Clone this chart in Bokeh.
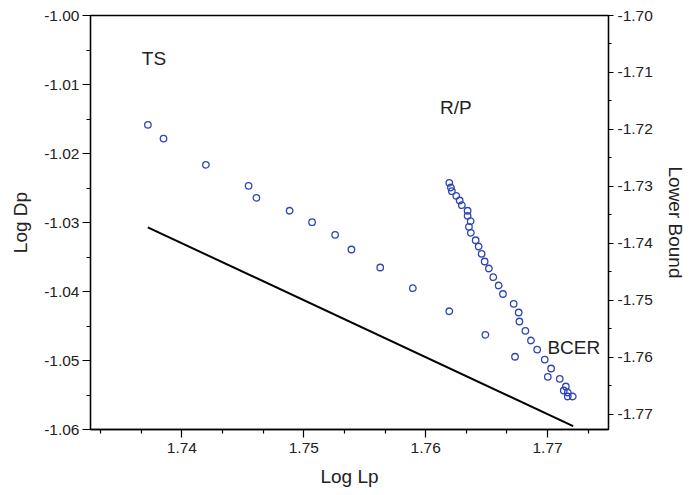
from bokeh.plotting import figure
from bokeh.models import (Range1d, LinearAxis, FixedTicker, PrintfTickFormatter,
                          ColumnDataSource)
from bokeh.core.properties import value
from bokeh.embed import file_html
from bokeh.resources import INLINE

# ---- data ----
ts_x = [1.73721, 1.73849, 1.74197, 1.74547, 1.74611, 1.74884, 1.75068, 1.75257,
        1.75391, 1.75627, 1.75895, 1.76194, 1.76490, 1.76733]
ts_y = [-1.01584, -1.01783, -1.02164, -1.02468, -1.02642, -1.02830, -1.02996, -1.03178,
        -1.03391, -1.03652, -1.03952, -1.04286, -1.04628, -1.04946]

rp_x = [1.76194, 1.76207, 1.76215, 1.76251, 1.76279, 1.76297, 1.76344, 1.76344,
        1.76369, 1.76355, 1.76371, 1.76410, 1.76435, 1.76459, 1.76484, 1.76519,
        1.76555, 1.76599, 1.76634, 1.76722, 1.76763, 1.76769, 1.76818, 1.76864,
        1.76915, 1.76977, 1.77029, 1.77002, 1.77100, 1.77150, 1.77133, 1.77166,
        1.77166, 1.77207]
rp_y = [-1.02425, -1.02493, -1.02546, -1.02613, -1.02681, -1.02749, -1.02830, -1.02903,
        -1.02981, -1.03062, -1.03149, -1.03257, -1.03348, -1.03454, -1.03565, -1.03667,
        -1.03793, -1.03913, -1.04036, -1.04178, -1.04304, -1.04435, -1.04570, -1.04710,
        -1.04841, -1.04986, -1.05116, -1.05236, -1.05265, -1.05377, -1.05435, -1.05464,
        -1.05522, -1.05522]

lb_x = [1.7372, 1.7721]
lb_y = [-1.7372, -1.7721]

label_text = ["TS", "R/P", "BCER"]
label_x = [1.73671, 1.76117, 1.76999]
label_y = [-1.00623, -1.01329, -1.04807]

x_ticks = [1.74, 1.75, 1.76, 1.77]
x_minor = [1.73333, 1.73667, 1.74333, 1.74667, 1.75333, 1.75667, 1.76333, 1.76667,
           1.77333, 1.77667]
yl_ticks = [-1.00, -1.01, -1.02, -1.03, -1.04, -1.05, -1.06]
yl_minor = [-1.005, -1.015, -1.025, -1.035, -1.045, -1.055]
yr_ticks = [-1.70, -1.71, -1.72, -1.73, -1.74, -1.75, -1.76, -1.77]
yr_minor = [-1.705, -1.715, -1.725, -1.735, -1.745, -1.755, -1.765]

FONT = "Liberation Sans"
TICK_FS = "15.5px"
TITLE_FS = "19px"

p = figure(width=689, height=495, output_backend="svg", toolbar_location=None,
           x_range=Range1d(1.7325, 1.775), y_range=Range1d(-1.06, -1.00),
           min_border_left=90, min_border_right=81, min_border_top=15,
           min_border_bottom=66)
p.extra_y_ranges = {"right": Range1d(-1.7727, -1.70)}

p.grid.visible = False
p.outline_line_color = "black"
p.outline_line_width = 1.3
p.background_fill_color = "white"
p.border_fill_color = "white"

def style_axis(ax, tick_out=8):
    ax.axis_line_color = "black"
    ax.axis_line_width = 1.3
    ax.major_tick_line_color = "black"
    ax.minor_tick_line_color = "black"
    ax.major_tick_line_width = 1.2
    ax.minor_tick_line_width = 1.2
    ax.major_tick_out = tick_out
    ax.major_tick_in = 0
    ax.minor_tick_out = 4
    ax.minor_tick_in = 0
    ax.major_label_text_font = FONT
    ax.major_label_text_font_size = TICK_FS
    ax.major_label_text_color = "#222222"
    ax.axis_label_text_font = FONT
    ax.axis_label_text_font_size = TITLE_FS
    ax.axis_label_text_font_style = "normal"
    ax.axis_label_text_color = "#222222"

xa = p.xaxis[0]
xa.ticker = FixedTicker(ticks=x_ticks, minor_ticks=x_minor)
xa.formatter = PrintfTickFormatter(format="%.2f")
xa.axis_label = "Log Lp"
style_axis(xa)
xa.major_label_standoff = 5
xa.axis_label_standoff = 10

ya = p.yaxis[0]
ya.ticker = FixedTicker(ticks=yl_ticks, minor_ticks=yl_minor)
ya.formatter = PrintfTickFormatter(format="%.2f")
ya.axis_label = "Log Dp"
style_axis(ya)
ya.major_label_standoff = 3
ya.axis_label_standoff = 10

ra = LinearAxis(y_range_name="right", axis_label="Lower Bound")
ra.ticker = FixedTicker(ticks=yr_ticks, minor_ticks=yr_minor)
ra.formatter = PrintfTickFormatter(format="%.2f")
style_axis(ra, tick_out=5)
ra.minor_tick_out = 3
ra.major_label_standoff = 4
ra.axis_label_standoff = 9
p.add_layout(ra, "right")

p.line(lb_x, lb_y, y_range_name="right", line_color="black", line_width=2)

p.scatter(ts_x, ts_y, marker="circle", size=6.5, fill_color=None,
          line_color="#2f45b5", line_width=1.3)
p.scatter(rp_x, rp_y, marker="circle", size=6.5, fill_color=None,
          line_color="#2f45b5", line_width=1.3)

src = ColumnDataSource(dict(x=label_x, y=label_y, t=label_text))
p.text(x="x", y="y", text="t", source=src, text_font=value(FONT),
       text_font_size=TITLE_FS, text_align="left", text_baseline="middle",
       text_color="#222222")

open("out.html", "w").write(file_html(p, INLINE))
